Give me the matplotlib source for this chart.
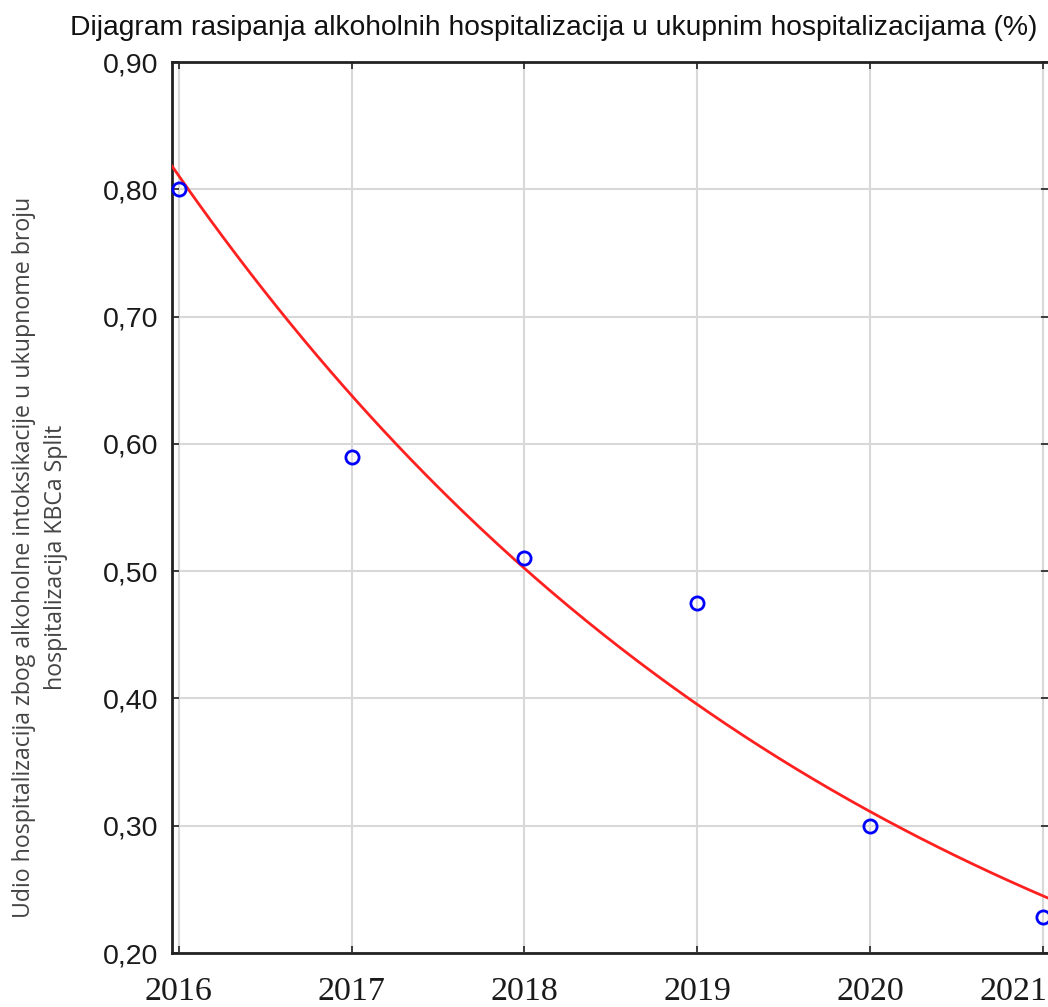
import numpy as np
import matplotlib
matplotlib.use('Agg')
import matplotlib.pyplot as plt
import matplotlib.transforms as mtransforms

# data
years = [2016, 2017, 2018, 2019, 2020, 2021]
share = [0.800, 0.590, 0.510, 0.475, 0.300, 0.228]

title = 'Dijagram rasipanja alkoholnih hospitalizacija u ukupnim hospitalizacijama (%)'
ylabel = 'Udio hospitalizacija zbog alkoholne intoksikacije u ukupnome broju\nhospitalizacija KBCa Split'
yticks = [0.20, 0.30, 0.40, 0.50, 0.60, 0.70, 0.80, 0.90]

fig = plt.figure(figsize=(10.48, 10.07), dpi=100)
ax = fig.add_axes([172/1048, 1-953/1007, 1-172/1048, (953-62)/1007])

# exponential fit, like the original statistics software draws
x = np.array(years, dtype=float)
b, ln_a = np.polyfit(x-2016, np.log(share), 1)
xlim = (2015.96, 2021.03)
xf = np.linspace(xlim[0], xlim[1], 200)
ax.plot(xf, np.exp(ln_a)*np.exp(b*(xf-2016)), color='#ff2020', lw=2, zorder=3)

ax.plot(years, share, 'o', mfc='none', mec='#0000ff', ms=9.5, mew=2,
        zorder=4, clip_on=False)

ax.set_xlim(*xlim)
ax.set_ylim(0.2, 0.9)
ax.set_xticks(years)
ax.set_yticks(yticks)
ax.set_yticklabels(['{:.2f}'.format(v).replace('.', ',') for v in yticks],
                   family='Liberation Sans', fontsize=20.5, color='#1a1a1a')
ax.set_xticklabels([str(y) for y in years], family='Liberation Serif',
                   fontsize=24.5, color='#1a1a1a')
ax.grid(True, color='#d8d8d8', lw=1.5)
ax.set_axisbelow(True)
ax.tick_params(direction='in', length=5, width=1.2, top=True, right=True,
               color='#222222')
ax.tick_params(axis='x', pad=17)
ax.tick_params(axis='y', pad=10)
for s in ['left', 'bottom', 'top']:
    ax.spines[s].set_linewidth(2)
    ax.spines[s].set_color('#222222')
ax.spines['right'].set_visible(False)

# last year label sits against the right edge of the picture
last = ax.get_xticklabels()[-1]
last.set_ha('right')
last.set_transform(last.get_transform() +
                   mtransforms.ScaledTranslation(5/100, 0, fig.dpi_scale_trans))

fig.text(554/1048, 1-28/1007, title, ha='center', va='center',
         family='Liberation Sans', fontsize=20.3, color='#111111')
fig.text(40/1048, 1-557/1007, ylabel, rotation=90, ha='center', va='center',
         family='Open Sans', fontsize=16.7, color='#444444', linespacing=1.4,
         multialignment='center')

fig.savefig('out.png', dpi=100)
